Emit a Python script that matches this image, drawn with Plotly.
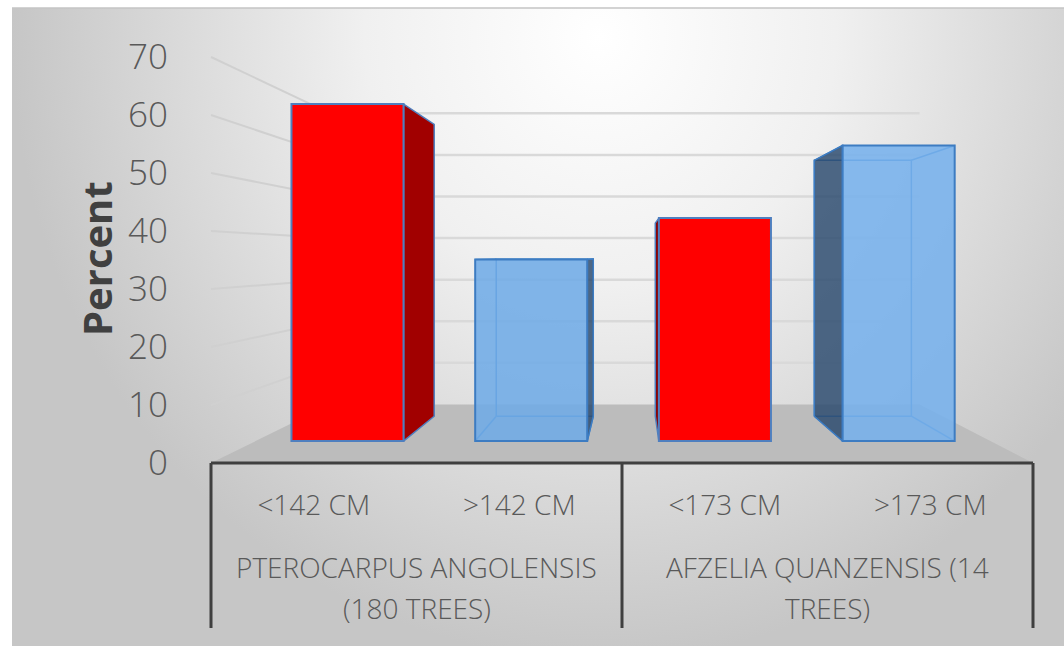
import plotly.graph_objects as go

# ---------------- data ----------------
subcats = ["<142 CM", ">142 CM", "<173 CM", ">173 CM"]
group_lines = [["PTEROCARPUS ANGOLENSIS", "(180 TREES)"],
               ["AFZELIA QUANZENSIS (14", "TREES)"]]
group_size = [2, 2]
values = [65, 35, 43, 57]
bar_fill = ["#ff0000", "rgba(110,170,230,0.86)", "#ff0000", "rgba(116,176,236,0.86)"]
bar_edge = ["#4f7fbf", "#3d7cc2", "#4f7fbf", "#3d7cc2"]
side_fill = ["#a10000", "rgba(40,72,108,0.82)", "#8a0000", "rgba(40,72,108,0.82)"]
transparent = [False, True, False, True]
y_ticks = [0, 10, 20, 30, 40, 50, 60, 70]
y_title = "Percent"

# ---------------- geometry (layout, pixels) ----------------
W, H = 1064, 646
left_px, right_px = 211, 1033
zero_px, unit_px = 463, 5.8
ncat = len(values)
cat_px = (right_px - left_px) / ncat
VX, VY = 2.049, 35.69           # vanishing point in front-plane units
F_BAR_FRONT, F_BAR_BACK, F_WALL = 0.894, 0.774, 0.717
BAR_W = 0.61
TEXT = "#595959"
FONT = "Open Sans"

xr_front = [(0 - left_px) / cat_px, (W - left_px) / cat_px]
yr_front = [(zero_px - H) / unit_px, zero_px / unit_px]
xr_bar = [VX + (r - VX) / F_BAR_FRONT for r in xr_front]
yr_bar = [VY + (r - VY) / F_BAR_FRONT for r in yr_front]


def proj(x, y, f):
    return VX + f * (x - VX), VY + f * (y - VY)


fig = go.Figure()

# background gradient (pixel space on base axes)
fig.add_trace(go.Scatter(
    x=[12, 12, 600, 600, 600, 1188, 1188, 12],
    y=[660, 8, 8, -586, 8, 8, 660, 660],
    mode="lines", line=dict(width=0), fill="toself",
    fillgradient=dict(type="radial",
                      colorscale=[[0, "#ffffff"], [0.4, "#f0f0f0"], [1, "#c6c6c6"]]),
    hoverinfo="skip", showlegend=False, xaxis="x", yaxis="y"))

# floor
fl = [proj(0, 0, 1), proj(ncat, 0, 1), proj(ncat, 0, F_WALL), proj(0, 0, F_WALL)]
fig.add_trace(go.Scatter(
    x=[p[0] for p in fl] + [fl[0][0]], y=[p[1] for p in fl] + [fl[0][1]],
    mode="lines", line=dict(width=0), fill="toself", fillcolor="#bcbcbc",
    hoverinfo="skip", showlegend=False, xaxis="x2", yaxis="y2"))

# wall gridlines
sx, sy, bx, by = [], [], [], []
for v in y_ticks[1:]:
    a = proj(0, v, 1)
    b = proj(0, v, F_WALL)
    c = proj(ncat, v, F_WALL)
    sx += [a[0], b[0], None]
    sy += [a[1], b[1], None]
    bx += [b[0], c[0], None]
    by += [b[1], c[1], None]
fig.add_trace(go.Scatter(x=sx, y=sy, mode="lines", line=dict(color="#d0d0d0", width=2),
                         hoverinfo="skip", showlegend=False, xaxis="x2", yaxis="y2"))
fig.add_trace(go.Scatter(x=bx, y=by, mode="lines", line=dict(color="#d9d9d9", width=2.5),
                         hoverinfo="skip", showlegend=False, xaxis="x2", yaxis="y2"))

# 3D parts of bars (back faces, side faces)
for i, v in enumerate(values):
    c = i + 0.5
    xl, xr = c - BAR_W / 2, c + BAR_W / 2
    if transparent[i]:
        bk = [proj(xl, 0, F_BAR_BACK), proj(xl, v, F_BAR_BACK),
              proj(xr, v, F_BAR_BACK), proj(xr, 0, F_BAR_BACK)]
        ex, ey = [], []
        for p in bk + [bk[0]]:
            ex.append(p[0]); ey.append(p[1])
        ex.append(None); ey.append(None)
        for (x, y) in [(xl, 0), (xl, v), (xr, v), (xr, 0)]:
            p1 = proj(x, y, F_BAR_FRONT)
            p2 = proj(x, y, F_BAR_BACK)
            ex += [p1[0], p2[0], None]
            ey += [p1[1], p2[1], None]
        fig.add_trace(go.Scatter(x=ex, y=ey, mode="lines",
                                 line=dict(color="#4a88c8", width=1.5),
                                 hoverinfo="skip", showlegend=False, xaxis="x2", yaxis="y2"))
    faces = []
    if xr < VX:
        faces.append(xr)
    if xl > VX:
        faces.append(xl)
    for xs in faces:
        pts = [proj(xs, 0, F_BAR_FRONT), proj(xs, v, F_BAR_FRONT),
               proj(xs, v, F_BAR_BACK), proj(xs, 0, F_BAR_BACK)]
        fig.add_trace(go.Scatter(
            x=[p[0] for p in pts] + [pts[0][0]], y=[p[1] for p in pts] + [pts[0][1]],
            mode="lines", line=dict(color=bar_edge[i], width=1.5), fill="toself",
            fillcolor=side_fill[i], hoverinfo="skip", showlegend=False,
            xaxis="x2", yaxis="y2"))

# category table lines
lx, ly = [0, ncat, None], [0, 0, None]
bounds = [0]
for g in group_size:
    bounds.append(bounds[-1] + g)
bottom_val = (zero_px - 628) / unit_px
for b in bounds:
    lx += [b, b, None]
    ly += [0, bottom_val, None]
fig.add_trace(go.Scatter(x=lx, y=ly, mode="lines", line=dict(color="#3f3f3f", width=3),
                         hoverinfo="skip", showlegend=False, xaxis="x2", yaxis="y2"))

# bars (front faces)
fig.add_trace(go.Bar(
    x=[i + 0.5 for i in range(ncat)], y=values, width=BAR_W,
    marker=dict(color=bar_fill, line=dict(color=bar_edge, width=2)),
    showlegend=False, xaxis="x3", yaxis="y3"))

# group labels
annotations = []
for gi, lines in enumerate(group_lines):
    cx = (bounds[gi] + bounds[gi + 1]) / 2
    for li, txt in enumerate(lines):
        annotations.append(dict(
            x=cx, y=1 - (567 + 41 * li) / H, xref="x2", yref="paper",
            text=txt, showarrow=False, xanchor="center", yanchor="middle",
            font=dict(family=FONT, size=28, color=TEXT, weight=300)))
annotations.append(dict(
    x=96 / W, y=1 - 259 / H, xref="paper", yref="paper", text=y_title,
    textangle=-90, showarrow=False, xanchor="center", yanchor="middle",
    font=dict(family=FONT, size=40, color="#404040", weight="bold")))

hidden = dict(visible=False, showgrid=False, zeroline=False)
fig.update_layout(
    width=W, height=H, margin=dict(l=0, r=0, t=0, b=0),
    paper_bgcolor="#ffffff", plot_bgcolor="rgba(0,0,0,0)",
    xaxis=dict(range=[0, W], domain=[0, 1], **hidden),
    yaxis=dict(range=[H, 0], domain=[0, 1], **hidden),
    xaxis2=dict(range=xr_front, overlaying="x", anchor="free",
                position=1 - zero_px / H, tickvals=[i + 0.5 for i in range(ncat)],
                ticktext=subcats, ticks="outside", ticklen=17,
                tickcolor="rgba(0,0,0,0)", showgrid=False, zeroline=False,
                showline=False,
                tickfont=dict(family=FONT, size=28, color=TEXT, weight=300)),
    yaxis2=dict(range=yr_front, overlaying="y", anchor="free",
                position=left_px / W, side="left", tickvals=y_ticks,
                ticks="outside", ticklen=36, tickcolor="rgba(0,0,0,0)",
                showgrid=False, zeroline=False, showline=False,
                tickfont=dict(family=FONT, size=35, color=TEXT, weight=300)),
    xaxis3=dict(range=xr_bar, overlaying="x", **hidden),
    yaxis3=dict(range=yr_bar, overlaying="y", **hidden),
    annotations=annotations,
    shapes=[dict(type="line", xref="paper", yref="paper",
                 x0=12 / W, x1=1, y0=1 - 8 / H, y1=1 - 8 / H,
                 line=dict(color="#c4c4c4", width=1.5))],
)

fig.write_html("out.html")
